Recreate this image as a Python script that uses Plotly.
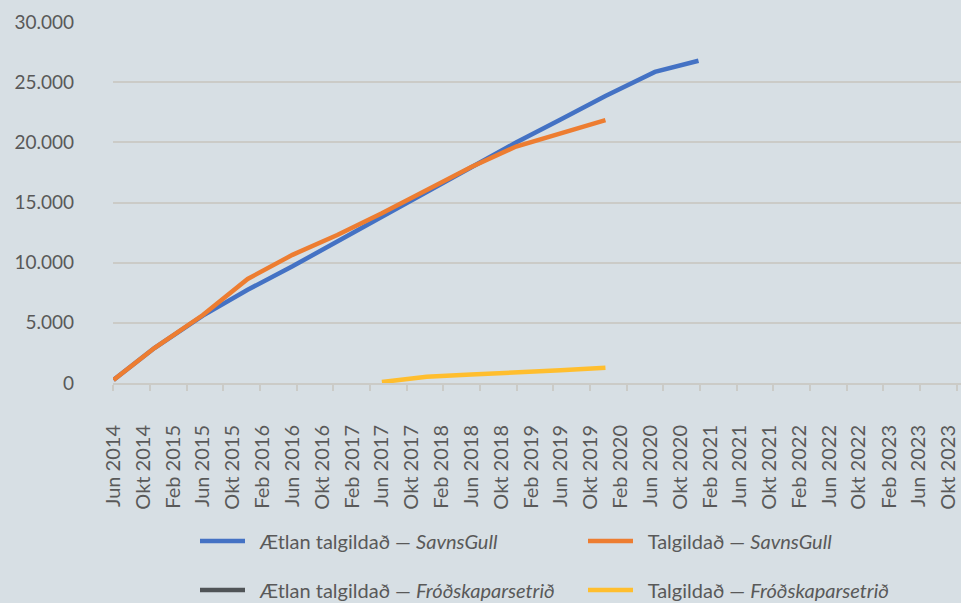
import plotly.graph_objects as go

# ---- data ----
dates_savnsgull_plan = ["2014-06-01", "2014-11-15", "2015-06-01", "2015-12-01", "2016-06-01",
                        "2016-12-01", "2017-06-01", "2017-12-01", "2018-06-01", "2018-12-01",
                        "2019-06-01", "2019-12-01", "2020-06-20", "2020-12-15"]
plan_savnsgull = [250, 2900, 5600, 7750, 9700, 11750, 13800, 15900, 17950, 19980,
                  21900, 23850, 25850, 26780]

dates_savnsgull_actual = dates_savnsgull_plan[:12]
actual_savnsgull = [250, 2900, 5650, 8650, 10650, 12300, 14100, 16000, 17950, 19650,
                    20700, 21850]

dates_frod_plan = [None]
plan_frod = [None]

dates_frod_actual = ["2017-06-01", "2017-12-01", "2018-06-01", "2018-12-01", "2019-06-01", "2019-12-01"]
actual_frod = [80, 520, 700, 850, 1050, 1260]

tick_dates = []
tick_labels = []
month_names = {2: "Feb", 6: "Jun", 10: "Okt"}
y, m = 2014, 6
while (y, m) <= (2023, 10):
    tick_dates.append(f"{y}-{m:02d}-01")
    tick_labels.append(f"{month_names[m]} {y}")
    m += 4
    if m > 12:
        m -= 12
        y += 1

y_ticks = [0, 5000, 10000, 15000, 20000, 25000, 30000]
y_tick_labels = ["0", "5.000", "10.000", "15.000", "20.000", "25.000", "30.000"]

NB = "\u00a0\u00a0"
names = [NB + "Ætlan talgildað — <i>SavnsGull</i>",
         NB + "Talgildað — <i>SavnsGull</i>",
         NB + "Ætlan talgildað — <i>Fróðskaparsetrið</i>",
         NB + "Talgildað — <i>Fróðskaparsetrið</i>"]
colors = ["#4472C4", "#ED7D31", "#505457", "#FFBE2E"]
legend_ids = ["legend", "legend2", "legend3", "legend4"]

BG = "#d7dfe4"
GRID = "#cbcbc7"
TXT = "#595959"
FONT = "Lato"

# plot area geometry (px)
L, T, W, H = 113, 22, 848, 361
def px_x(p):
    return (p - L) / W
def px_y(p):
    return (T + H - p) / H

fig = go.Figure()
series = [(dates_savnsgull_plan, plan_savnsgull),
          (dates_savnsgull_actual, actual_savnsgull),
          (dates_frod_plan, plan_frod),
          (dates_frod_actual, actual_frod)]
for (xs, ys), nm, col, lg in zip(series, names, colors, legend_ids):
    fig.add_trace(go.Scatter(x=xs, y=ys, mode="lines", name=nm,
                             line=dict(color=col, width=4.5),
                             legend=lg, hoverinfo="skip", showlegend=True))

legend_pos = {"legend": (200, 541), "legend2": (588, 541),
              "legend3": (200, 590), "legend4": (588, 590)}
legends = {}
for lg, (lx, ly) in legend_pos.items():
    legends[lg] = dict(orientation="h", font=dict(family=FONT, size=20, color=TXT),
                       bgcolor="rgba(0,0,0,0)", itemwidth=45,
                       x=px_x(lx - 5), y=px_y(ly), xanchor="left", yanchor="middle")

fig.update_layout(
    width=961, height=603,
    margin=dict(l=L, r=961 - L - W, t=T, b=603 - T - H, autoexpand=False),
    paper_bgcolor=BG, plot_bgcolor="rgba(0,0,0,0)",
    font=dict(family=FONT, color=TXT, size=20),
    showlegend=True,
    xaxis=dict(type="date", range=["2014-05-30", "2023-11-22"],
               tickmode="array", tickvals=tick_dates, ticktext=tick_labels,
               tickangle=-90, ticks="", ticklabelstandoff=32, automargin=False,
               tickfont=dict(family=FONT, size=20, color=TXT),
               showgrid=False, showline=True, linecolor=GRID, linewidth=2,
               zeroline=False,
               minor=dict(ticks="outside", ticklen=6, tickwidth=2, tickcolor=GRID,
                          dtick=149.7 * 86400000, tick0="2014-06-01", showgrid=False)),
    yaxis=dict(range=[0, 30000], tickmode="array", tickvals=y_ticks, ticktext=y_tick_labels,
               showgrid=True, gridcolor=GRID, gridwidth=2, zeroline=False,
               ticks="", ticklabelstandoff=38, automargin=False,
               tickfont=dict(family=FONT, size=19, color=TXT)),
    **legends,
)

fig.write_html("out.html", config={"displayModeBar": False},
               post_script="document.body.style.margin='0';document.body.style.overflow='hidden';")
